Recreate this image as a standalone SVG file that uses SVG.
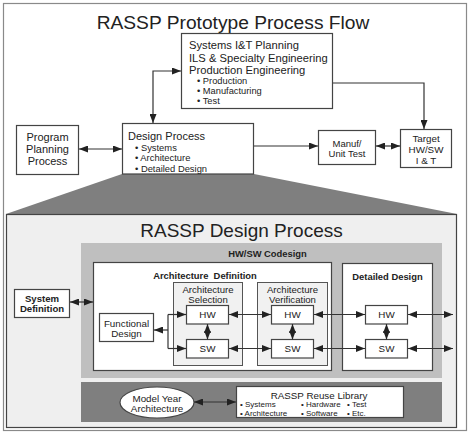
<svg xmlns="http://www.w3.org/2000/svg" width="471" height="434" viewBox="0 0 471 434">
<defs>
<marker id="ah" markerUnits="userSpaceOnUse" markerWidth="9" markerHeight="7" refX="9" refY="3.5" orient="auto-start-reverse">
<path d="M0,0 L9,3.5 L0,7 z" fill="#222"/>
</marker>
<style>
text{font-family:"Liberation Sans",Arial,sans-serif;fill:#222}
.box{fill:#fff;stroke:#444;stroke-width:1.2}
.sub{fill:#f1f1f1;stroke:#555;stroke-width:1}
.c{text-anchor:middle}
.b{font-weight:bold}
.ln{fill:none;stroke:#333;stroke-width:1.2}
.a2{marker-start:url(#ah);marker-end:url(#ah)}
.a1{marker-end:url(#ah)}
</style>
</defs>
<rect x="3.5" y="3.5" width="463" height="427" fill="#fff" stroke="#8a8a8a" stroke-width="1.2"/>
<text x="233" y="29" class="c" font-size="19.2">RASSP Prototype Process Flow</text>

<polygon points="122,174 254,174 457,214 6,214" fill="#7f7f7f"/>
<rect id="designProcessDetail" x="6.5" y="214.5" width="450" height="213" fill="#efefef" stroke="#444" stroke-width="1.2"/>
<text x="241.5" y="237" class="c" font-size="19">RASSP Design Process</text>

<g id="planning">
<rect class="box" x="181.5" y="33.5" width="151" height="75"/>
<text x="189" y="49" font-size="11.2">Systems I&amp;T Planning</text>
<text x="189" y="61.5" font-size="11.2">ILS &amp; Specialty Engineering</text>
<text x="189" y="73.5" font-size="11.2">Production Engineering</text>
<text x="197" y="83.5" font-size="9.3">• Production</text>
<text x="197" y="93.5" font-size="9.3">• Manufacturing</text>
<text x="197" y="103.5" font-size="9.3">• Test</text>
</g>
<g id="programPlanning">
<rect class="box" x="16.5" y="125.5" width="62" height="49"/>
<text x="47.5" y="141" class="c" font-size="11">Program</text>
<text x="47.5" y="153" class="c" font-size="11">Planning</text>
<text x="47.5" y="165" class="c" font-size="11">Process</text>
</g>
<g id="designProcess">
<rect class="box" x="122.5" y="123.5" width="131" height="50.5"/>
<text x="128" y="140" font-size="11">Design Process</text>
<text x="135" y="150.5" font-size="9.4">• Systems</text>
<text x="135" y="161" font-size="9.4">• Architecture</text>
<text x="135" y="171.5" font-size="9.4">• Detailed Design</text>
</g>
<g id="manuf">
<rect class="box" x="318.5" y="130.5" width="57" height="34"/>
<text x="347" y="146.5" class="c" font-size="9.5">Manuf/</text>
<text x="347" y="156.5" class="c" font-size="9.5">Unit Test</text>
</g>
<g id="target">
<rect class="box" x="400.5" y="129.5" width="51" height="38"/>
<text x="426" y="141.5" class="c" font-size="9.8">Target</text>
<text x="426" y="152.5" class="c" font-size="9.8">HW/SW</text>
<text x="426" y="163.5" class="c" font-size="9.8">I &amp; T</text>
</g>

<g id="codesign">
<rect x="81" y="243" width="361" height="135" fill="#bfbfbf"/>
<text x="267.5" y="256.5" class="c b" font-size="9.4">HW/SW Codesign</text>
</g>
<g id="archDef">
<rect class="box" x="93.5" y="262.5" width="238" height="108"/>
<text x="205" y="278.5" class="c b" font-size="9.4" xml:space="preserve">Architecture  Definition</text>
</g>
<g id="detailedDesign">
<rect class="box" x="342.5" y="263.5" width="90" height="107"/>
<text x="387.5" y="279.5" class="c b" font-size="9.4">Detailed Design</text>
</g>
<g id="archSel">
<rect class="sub" x="173.5" y="282.5" width="69" height="83"/>
<text x="208" y="292.5" class="c" font-size="9.6" fill="#444">Architecture</text>
<text x="208" y="302.5" class="c" font-size="9.6" fill="#444">Selection</text>
</g>
<g id="archVer">
<rect class="sub" x="257.5" y="282.5" width="70" height="83"/>
<text x="292.5" y="292.5" class="c" font-size="9.6" fill="#444">Architecture</text>
<text x="292.5" y="302.5" class="c" font-size="9.6" fill="#444">Verification</text>
</g>
<g id="functional">
<rect class="box" x="99.5" y="313.5" width="54" height="28"/>
<text x="126.5" y="326.5" class="c" font-size="9.8">Functional</text>
<text x="126.5" y="336.5" class="c" font-size="9.8">Design</text>
</g>
<g id="selHW"><rect class="box" x="186.5" y="305.5" width="42" height="18.5"/><text x="207.5" y="318" class="c" font-size="9.8">HW</text></g>
<g id="selSW"><rect class="box" x="186.5" y="339.5" width="42" height="18.5"/><text x="207.5" y="352" class="c" font-size="9.8">SW</text></g>
<g id="verHW"><rect class="box" x="271.5" y="305.5" width="42" height="18.5"/><text x="292.5" y="318" class="c" font-size="9.8">HW</text></g>
<g id="verSW"><rect class="box" x="271.5" y="339.5" width="42" height="18.5"/><text x="292.5" y="352" class="c" font-size="9.8">SW</text></g>
<g id="detHW"><rect class="box" x="365.5" y="305.5" width="42" height="18.5"/><text x="386.5" y="318" class="c" font-size="9.8">HW</text></g>
<g id="detSW"><rect class="box" x="365.5" y="339.5" width="42" height="18.5"/><text x="386.5" y="352" class="c" font-size="9.8">SW</text></g>
<g id="systemDef">
<rect class="box" x="14.5" y="289.5" width="55" height="28"/>
<text x="42" y="301.5" class="c b" font-size="9.6">System</text>
<text x="42" y="311.5" class="c b" font-size="9.6">Definition</text>
</g>
<g id="reuseBand">
<rect x="81" y="382" width="361" height="40" fill="#7f7f7f"/>
</g>
<g id="modelYear">
<ellipse cx="157" cy="402.5" rx="37" ry="15.5" fill="#fff" stroke="#444" stroke-width="1.2"/>
<text x="157" y="401.5" class="c" font-size="9.8">Model Year</text>
<text x="157" y="411.5" class="c" font-size="9.8">Architecture</text>
</g>
<g id="reuseLib">
<rect class="box" x="236.5" y="386.5" width="167" height="31"/>
<text x="319" y="398.5" class="c" font-size="9.8">RASSP Reuse Library</text>
<text x="240" y="406.5" font-size="8">• Systems</text>
<text x="240" y="415.5" font-size="8">• Architecture</text>
<text x="301" y="406.5" font-size="8">• Hardware</text>
<text x="301" y="415.5" font-size="8">• Software</text>
<text x="347" y="406.5" font-size="8">• Test</text>
<text x="347" y="415.5" font-size="8">• Etc.</text>
</g>

<g id="connectors">
<path class="ln a2" d="M153,123 V71 H181"/>
<path class="ln a1" d="M333,83 H424 V129"/>
<path class="ln a2" d="M79,149 H122"/>
<path class="ln a1" d="M254,146 H318"/>
<path class="ln a2" d="M376,146 H400"/>
<path class="ln a2" d="M70,302 H93"/>
<path class="ln a1" d="M168,330 H154"/>
<path class="ln a1" d="M168,314.5 H186"/>
<path class="ln a1" d="M168,348.5 H186"/>
<path class="ln" d="M168,314.5 V348.5"/>
<path class="ln a2" d="M207.5,324 V339.5"/>
<path class="ln a2" d="M292.5,324 V339.5"/>
<path class="ln a2" d="M386.5,324 V339.5"/>
<path class="ln a2" d="M229,314.5 H271"/>
<path class="ln a2" d="M229,348.5 H271"/>
<path class="ln a2" d="M314,314.5 H365"/>
<path class="ln a2" d="M314,348.5 H365"/>
<path class="ln a2" d="M408,314.5 H453"/>
<path class="ln a2" d="M408,348.5 H453"/>
<path class="ln a2" d="M194,402 H236"/>
</g>
</svg>
